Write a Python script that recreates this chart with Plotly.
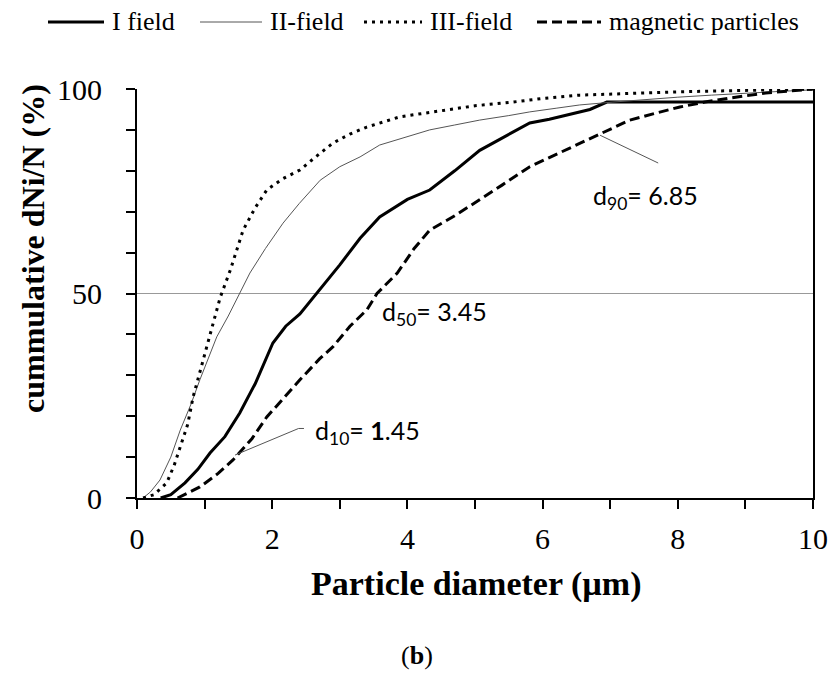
import plotly.graph_objects as go

# ---- data ----
x_I = [0.35, 0.5, 0.71, 0.9, 1.08, 1.3, 1.52, 1.75, 2.01, 2.2, 2.41, 2.66, 3.0, 3.3, 3.59,
       4.0, 4.33, 4.7, 5.07, 5.4, 5.81, 6.1, 6.36, 6.7, 6.95, 7.5, 8.0, 9.0, 10.0]
y_I = [0, 0.8, 3.7, 7, 11, 15, 20.8, 28, 37.9, 42, 45, 50, 57, 63.5, 68.7,
       73, 75.3, 80, 85, 88, 91.7, 92.6, 93.6, 95, 96.8, 96.8, 96.8, 96.8, 96.8]

x_II = [0.09, 0.2, 0.34, 0.5, 0.64, 0.8, 0.93, 1.05, 1.18, 1.35, 1.52, 1.67, 1.9, 2.16, 2.4,
        2.71, 3.0, 3.3, 3.59, 3.89, 4.33, 4.7, 5.07, 5.5, 5.81, 6.2, 6.55, 7.04, 7.5, 8.0,
        8.5, 9.0, 9.5, 10.0]
y_II = [0, 1.5, 4.4, 10, 16.6, 23, 28.9, 34, 39.4, 44.5, 50, 55, 61, 67.2, 72,
        77.7, 81, 83.4, 86.3, 87.8, 90, 91.2, 92.4, 93.5, 94.4, 95.3, 96.1, 96.8, 97.4, 98,
        98.5, 99, 99.4, 99.8]

x_III = [0.09, 0.25, 0.44, 0.55, 0.64, 0.75, 0.83, 0.95, 1.08, 1.23, 1.38, 1.57, 1.75, 1.92,
         2.15, 2.41, 2.65, 2.9, 3.15, 3.4, 3.89, 4.2, 4.58, 5.0, 5.56, 6.0, 6.55, 7.0, 7.54,
         8.0, 8.52, 9.0, 9.5, 10.0]
y_III = [0, 0.8, 3.7, 8, 12.5, 18, 24.7, 32, 39.4, 49, 55.7, 65.5, 71, 75.3,
         78, 80.2, 83.5, 86.8, 89, 90.7, 93.2, 94, 94.9, 95.9, 96.8, 97.7, 98.5, 98.8, 99,
         99.3, 99.5, 99.7, 99.9, 100]

x_mag = [0.6, 0.93, 1.2, 1.42, 1.7, 1.92, 2.2, 2.41, 2.7, 2.9, 3.15, 3.4, 3.55, 3.85, 4.1,
         4.33, 4.7, 5.07, 5.4, 5.81, 6.2, 6.55, 6.9, 7.29, 7.7, 8.03, 8.4, 8.77, 9.3, 9.91, 10.0]
y_mag = [0, 2.7, 6, 9.3, 14.5, 19.8, 25, 28.9, 34, 37, 42, 46, 50, 55, 61,
         65.5, 69, 72.9, 76.5, 81, 84, 86.8, 89.5, 92.4, 94.2, 95.6, 96.8, 97.8, 99, 99.8, 100]

series_names = ["I field", "II-field", "III-field", "magnetic particles"]

# leader lines for the d10 / d90 labels
lead_d90_x = [6.85, 7.71]
lead_d90_y = [88.7, 81.9]
lead_d10_x = [1.45, 2.39, 2.47]
lead_d10_y = [10.5, 17.0, 17.0]

x_ticks = [0, 2, 4, 6, 8, 10]
y_ticks = [0, 50, 100]

serif = "Liberation Serif, Times New Roman, serif"
sans = "Lato, Open Sans, sans-serif"

series_styles = [
    dict(color="black", width=3),
    dict(color="#555555", width=1),
    dict(color="black", width=3, dash="3px,5px"),
    dict(color="black", width=3, dash="10px,5px"),
]
series_data = [(x_I, y_I), (x_II, y_II), (x_III, y_III), (x_mag, y_mag)]

fig = go.Figure()
for (xs, ys), nm, st in zip(series_data, series_names, series_styles):
    fig.add_trace(go.Scatter(x=xs, y=ys, mode="lines", name=nm, line=st, showlegend=False))
for lx, ly in [(lead_d90_x, lead_d90_y), (lead_d10_x, lead_d10_y)]:
    fig.add_trace(go.Scatter(x=lx, y=ly, mode="lines", showlegend=False, hoverinfo="skip",
                             line=dict(color="#555555", width=1)))

# ---- custom legend across the top (paper coordinates) ----
L, R, T, B = 137, 20, 89, 181
W, H = 833, 679
pw, ph = W - L - R, H - T - B


def px_x(p):
    return (p - L) / pw


def px_y(p):
    return (H - B - p) / ph


legend_line_px = [(48, 104), (200, 262), (364, 422), (537, 601)]
legend_text_px = [110, 268, 428, 607]
leg_y = px_y(22)
for (x0, x1), tx, nm, st in zip(legend_line_px, legend_text_px, series_names, series_styles):
    fig.add_shape(type="line", xref="paper", yref="paper", x0=px_x(x0), x1=px_x(x1),
                  y0=leg_y, y1=leg_y,
                  line=dict(color=st["color"], width=st["width"], dash=st.get("dash", "solid")))
    fig.add_annotation(x=px_x(tx), y=leg_y, xref="paper", yref="paper", xanchor="left",
                       yanchor="middle", text=nm, showarrow=False,
                       font=dict(family=serif, size=26, color="black"))

fig.add_annotation(x=6.72, y=73.6, xref="x", yref="y", xanchor="left", yanchor="middle",
                   text="d<sub>90</sub>= 6.85", showarrow=False,
                   font=dict(family=sans, size=25, color="black"))
fig.add_annotation(x=3.59, y=45.2, xref="x", yref="y", xanchor="left", yanchor="middle",
                   text="d<sub>50</sub>= 3.45", showarrow=False,
                   font=dict(family=sans, size=25, color="black"))
fig.add_annotation(x=2.60, y=16.1, xref="x", yref="y", xanchor="left", yanchor="middle",
                   text="d<sub>10</sub>= <b>1</b>.45", showarrow=False,
                   font=dict(family=sans, size=25, color="black"))

# axis titles and panel label
fig.add_annotation(x=px_x(476), y=px_y(584), xref="paper", yref="paper", xanchor="center",
                   yanchor="middle", text="<b>Particle diameter (µm)</b>", showarrow=False,
                   font=dict(family=serif, size=34, color="black"))
fig.add_annotation(x=px_x(33), y=px_y(249), xref="paper", yref="paper", xanchor="center",
                   yanchor="middle", text="<b>cummulative dNi/N (%)</b>", showarrow=False,
                   textangle=-90, font=dict(family=serif, size=32, color="black"))
fig.add_annotation(x=px_x(417), y=px_y(655), xref="paper", yref="paper", xanchor="center",
                   yanchor="middle", text="(<b>b</b>)", showarrow=False,
                   font=dict(family=serif, size=26, color="black"))

fig.update_layout(
    width=W, height=H,
    margin=dict(l=L, r=R, t=T, b=B, autoexpand=False),
    plot_bgcolor="white", paper_bgcolor="white",
    font=dict(family=serif, color="black"),
    showlegend=False,
)
fig.update_xaxes(
    range=[0, 10], tickvals=x_ticks, ticks="outside", ticklen=9, tickwidth=1.5,
    tickcolor="black", showline=True, linecolor="black", linewidth=2,
    showgrid=False, zeroline=False, ticklabelstandoff=4,
    minor=dict(dtick=1, ticks="outside", ticklen=9, tickwidth=1.5, tickcolor="black"),
    tickfont=dict(family=serif, size=30, color="black"),
)
fig.update_yaxes(
    range=[0, 100], tickvals=y_ticks, ticks="outside", ticklen=9, tickwidth=1.5,
    tickcolor="black", showline=True, linecolor="black", linewidth=2, mirror=True,
    showgrid=True, gridcolor="#999999", gridwidth=1, zeroline=False, ticklabelstandoff=18,
    minor=dict(dtick=10, ticks="outside", ticklen=9, tickwidth=1.5, tickcolor="black",
               showgrid=False),
    tickfont=dict(family=serif, size=30, color="black"),
)

fig.write_html("out.html")
